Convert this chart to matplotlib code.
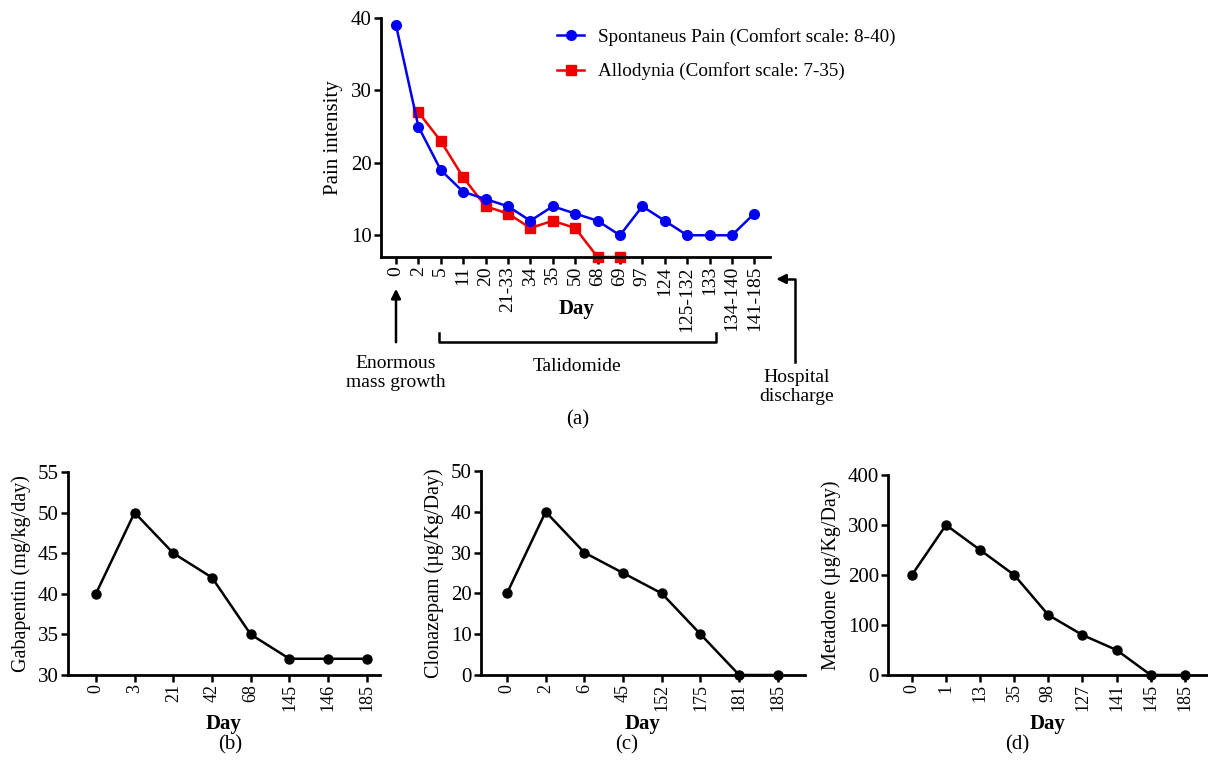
import matplotlib
matplotlib.use("Agg")
import matplotlib.pyplot as plt
import matplotlib.transforms as mtransforms

plt.rcParams['font.family'] = ['Liberation Serif', 'DejaVu Serif']
plt.rcParams['font.size'] = 14

# (a) pain intensity
pain_days = ["0", "2", "5", "11", "20", "21-33", "34", "35", "50", "68", "69",
             "97", "124", "125-132", "133", "134-140", "141-185"]
spontaneous = [39, 25, 19, 16, 15, 14, 12, 14, 13, 12, 10, 14, 12, 10, 10, 10, 13]
allodynia_idx = [1, 2, 3, 4, 5, 6, 7, 8, 9, 10]
allodynia = [27, 23, 18, 14, 13, 11, 12, 11, 7, 7]

# (b) gabapentin
gaba_days = ["0", "3", "21", "42", "68", "145", "146", "185"]
gaba = [40, 50, 45, 42, 35, 32, 32, 32]

# (c) clonazepam
clona_days = ["0", "2", "6", "45", "152", "175", "181", "185"]
clona = [20, 40, 30, 25, 20, 10, 0, 0]

# (d) metadone
meta_days = ["0", "1", "13", "35", "98", "127", "141", "145", "185"]
meta = [200, 300, 250, 200, 120, 80, 50, 0, 0]

W, H = 1208, 766
fig = plt.figure(figsize=(W / 100, H / 100), dpi=100)


def px_axes(left, top, right, bottom):
    return fig.add_axes([left / W, 1 - bottom / H, (right - left) / W, (bottom - top) / H])


def style(ax, xsize):
    for s in ["top", "right"]:
        ax.spines[s].set_visible(False)
    for s in ["left", "bottom"]:
        ax.spines[s].set_linewidth(2)
    ax.tick_params(direction="out", length=5, width=1.8, pad=1.5)
    ax.tick_params(axis="y", labelsize=15)
    ax.tick_params(axis="x", labelsize=xsize)


def fy(py):
    return 1 - py / H


# ---- top panel
ax = px_axes(381, 18, 770, 257)
style(ax, 14)
x = list(range(len(pain_days)))
ax.plot(x, spontaneous, color="#0000ee", marker="o", ms=7, lw=1.8,
        label="Spontaneus Pain (Comfort scale: 8-40)", clip_on=False, zorder=3)
ax.plot(allodynia_idx, allodynia, color="#ee0000", marker="s", ms=6.5, lw=1.8,
        label="Allodynia (Comfort scale: 7-35)", clip_on=False, zorder=2)
ax.set_xlim(-0.67, 16.7)
ax.set_ylim(7, 40)
ax.set_yticks([10, 20, 30, 40])
ax.set_xticks(x)
ax.set_xticklabels(pain_days, rotation=90)
ax.set_ylabel("Pain intensity", fontsize=15, labelpad=6)
ax.set_xlabel("Day", fontweight="bold", fontsize=15)
ax.xaxis.set_label_coords(0.504, -0.175)
ax.legend(loc="upper left", bbox_to_anchor=(540 / W, fy(11)),
          bbox_transform=fig.transFigure, frameon=False, fontsize=13.8,
          handlelength=1.4, handletextpad=0.75, labelspacing=0.85)

tr = mtransforms.blended_transform_factory(ax.transData, fig.transFigure)

arrow = dict(arrowstyle="-|>", color="black", lw=1.8, mutation_scale=14)
ax.annotate("", xy=(0, fy(286)), xytext=(0, fy(345)), xycoords=tr,
            textcoords=tr, arrowprops=arrow, annotation_clip=False)
fig.text(0, fy(373), "Enormous\nmass growth", transform=tr, ha="center",
         va="center", fontsize=14, linespacing=1.1)

# Talidomide bracket
b0, b1 = 1.9, 14.3
ax.plot([b0, b0, b1, b1], [fy(333), fy(342), fy(342), fy(333)], transform=tr,
        color="black", lw=1.8, clip_on=False)
fig.text((b0 + b1) / 2, fy(366), "Talidomide", transform=tr, ha="center",
         va="center", fontsize=14)

# Hospital discharge
ax.plot([17.8, 17.8, 17.3], [fy(362), fy(279), fy(279)], transform=tr,
        color="black", lw=1.8, clip_on=False)
ax.annotate("", xy=(16.85, fy(279)), xytext=(17.4, fy(279)), xycoords=tr,
            textcoords=tr, arrowprops=arrow, annotation_clip=False)
fig.text(17.9, fy(387), "Hospital\ndischarge", transform=tr, ha="center",
         va="center", fontsize=14, linespacing=1.1)
fig.text(578 / W, fy(420), "(a)", ha="center", va="center", fontsize=15)

# ---- bottom panels
panels = [
    ((68, 472, 380, 675), gaba_days, gaba, (30, 55), [30, 35, 40, 45, 50, 55],
     "Gabapentin (mg/kg/day)", (-0.72, 7.34), "(b)", 230),
    ((481, 471, 805, 675), clona_days, clona, (0, 50), [0, 10, 20, 30, 40, 50],
     "Clonazepam (µg/Kg/Day)", (-0.67, 7.7), "(c)", 627),
    ((888, 475, 1207, 675), meta_days, meta, (0, 400), [0, 100, 200, 300, 400],
     "Metadone (µg/Kg/Day)", (-0.7, 8.65), "(d)", 1017),
]
for box, days, vals, ylim, yt, ylab, xlim, tag, tagx in panels:
    a = px_axes(*box)
    style(a, 13)
    xi = list(range(len(days)))
    a.plot(xi, vals, color="black", marker="o", ms=6.5, lw=1.8, clip_on=False, zorder=3)
    a.set_xlim(*xlim)
    a.set_ylim(*ylim)
    a.set_yticks(yt)
    a.set_xticks(xi)
    a.set_xticklabels(days, rotation=90)
    a.set_ylabel(ylab, fontsize=14.5, labelpad=5)
    a.set_xlabel("Day", fontweight="bold", fontsize=15)
    a.xaxis.set_label_coords(0.5, (675 - 714) / (box[3] - box[1]))
    fig.text(tagx / W, fy(745), tag, ha="center", va="center", fontsize=15)

fig.savefig("out.png", dpi=100)
